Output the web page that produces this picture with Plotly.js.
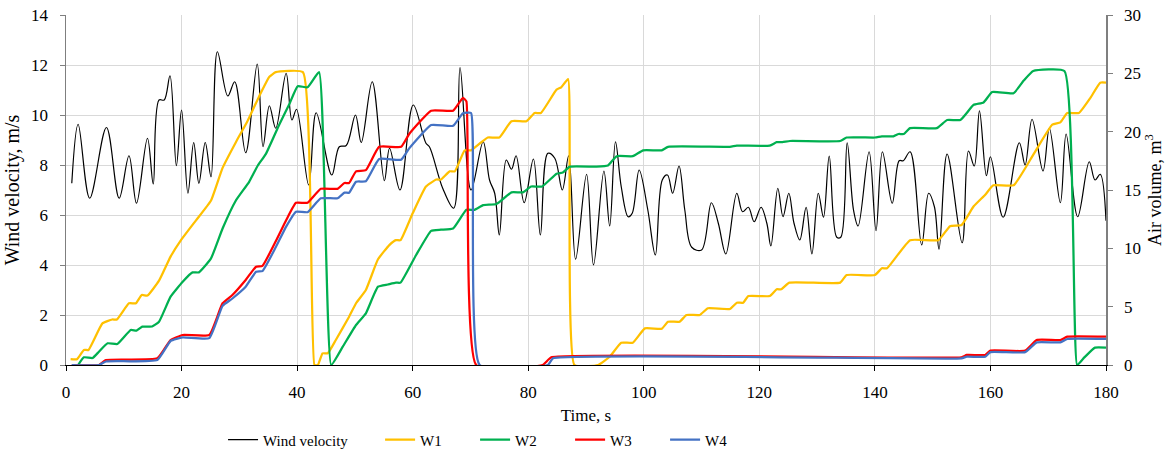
<!DOCTYPE html>
<html>
<head>
<meta charset="utf-8">
<script src="https://cdn.plot.ly/plotly-3.0.1.min.js"></script>
<style>html,body{margin:0;padding:0;background:#fff;}#chart{width:1173px;height:450px;}</style>
</head>
<body>
<div id="chart"></div>
<script>
// Wind velocity (m/s), left axis
const windT = [1, 2.1, 4.1, 7.0, 9.2, 10.9, 12.2, 14.1, 15.1, 16.1, 17.0, 18.0, 19.1, 20.0, 21.1, 22.1, 23.0, 24.1, 25.1, 26.2, 28.0, 29.2, 31.1, 33.1, 34.1, 35.2, 36.3, 38.1, 39.1, 39.9, 42.0, 43.3, 46.0, 47.3, 48.5, 50.1, 51.1, 53.0, 55.1, 56.0, 57.8, 60.1, 62.3, 62.9, 65.2, 67.1, 68.2, 70.1, 72.2, 73.3, 74.2, 75.0, 76.2, 77.1, 77.9, 79.3, 80.9, 82.1, 83.4, 84.6, 85.9, 87.0, 88.2, 90.1, 91.3, 93.1, 94.1, 95.1, 96.1, 97.3, 98.0, 99.2, 100.7, 102.0, 103.2, 104.1, 105.0, 106.1, 107.1, 108.3, 110.0, 111.7, 112.9, 114.2, 116.1, 117.1, 118.1, 119.1, 120.3, 121.3, 122.0, 123.2, 124.1, 125.1, 126.0, 127.0, 128.1, 129.1, 130.2, 131.1, 132.1, 133.4, 134.1, 135.2, 136.3, 137.1, 139.0, 140.2, 141.3, 143.0, 144.2, 144.9, 146.1, 148.1, 149.3, 150.3, 151.1, 152.5, 155.1, 156.2, 157.2, 158.1, 159.3, 160.0, 162.2, 165.0, 166.0, 167.2, 169.1, 170.2, 172.1, 173.1, 175.1, 177.1, 178.1, 179.0, 180];
const windV = [7.27, 9.63, 6.67, 9.5, 6.67, 8.37, 6.47, 9.07, 7.24, 10.6, 10.6, 11.57, 7.97, 10.2, 6.87, 8.9, 7.27, 8.9, 7.53, 12.53, 10.76, 11.33, 8.49, 12.04, 8.73, 10.37, 9.47, 11.67, 9.8, 10.23, 7.2, 10.09, 7.6, 8.73, 8.78, 10.0, 8.9, 11.33, 7.37, 8.67, 7.0, 10.4, 8.87, 8.73, 7.07, 6.27, 11.9, 7.0, 8.93, 7.4, 6.87, 5.2, 8.2, 7.83, 8.37, 6.49, 8.24, 5.2, 8.47, 8.27, 7.0, 8.37, 4.23, 7.63, 4.0, 7.76, 5.56, 8.93, 7.13, 5.93, 6.07, 7.8, 6.2, 4.4, 7.4, 7.6, 6.87, 7.96, 6.2, 4.71, 4.6, 6.49, 5.67, 4.44, 6.87, 6.13, 6.31, 5.73, 6.31, 5.67, 4.76, 7.07, 5.93, 6.87, 5.67, 5.0, 6.31, 4.44, 6.87, 5.91, 8.36, 5.11, 5.11, 8.89, 6.2, 5.56, 8.53, 5.37, 8.53, 6.47, 8.17, 8.17, 8.53, 4.8, 6.87, 6.33, 4.63, 8.44, 4.89, 8.56, 7.96, 10.17, 7.57, 8.33, 5.91, 8.89, 8.0, 9.83, 7.76, 9.47, 6.49, 9.24, 5.93, 8.13, 7.4, 7.63, 5.77];

// Air volume (m3), right axis
const w1T = [0.8, 1.9, 3.1, 3.9, 6.3, 8.0, 8.8, 10.9, 12.1, 13.1, 14.1, 16.1, 18.1, 19.9, 22.5, 25.1, 27.1, 29.4, 31.4, 33.4, 35.2, 36.3, 41.0, 43.0, 43.6, 44.4, 45.3, 46.7, 49.0, 50.2, 51.9, 54.0, 56.0, 57.1, 57.9, 60.0, 62.3, 64.1, 64.9, 66.4, 67.3, 69.0, 70.1, 71.9, 73.0, 75.0, 77.1, 79.7, 81.1, 82.2, 84.9, 85.7, 86.9, 88.0, 92.1, 94.1, 96.1, 98.1, 100.2, 103.1, 104.2, 106.2, 107.4, 109.7, 111.1, 114.9, 116.1, 117.2, 118.1, 121.8, 123.0, 123.8, 125.2, 134.0, 135.1, 140.0, 141.2, 142.1, 146.1, 151.0, 153.0, 155.0, 157.1, 159.1, 160.5, 164.0, 167.5, 170.7, 172.1, 173.3, 175.3, 177.3, 179.0, 180];
const w1V = [0.5, 0.5, 1.29, 1.29, 3.57, 3.9, 3.9, 5.29, 5.29, 6.0, 5.95, 7.23, 9.29, 10.7, 12.4, 14.1, 16.9, 19.1, 20.9, 23.0, 24.7, 25.1, 25.1, 0, 0, 1.0, 1.0, 2.14, 4.14, 5.29, 6.43, 9.06, 10.3, 10.7, 10.7, 13.0, 15.3, 15.9, 15.9, 16.6, 16.6, 18.4, 18.4, 19.1, 19.5, 19.5, 20.9, 20.9, 21.6, 21.6, 23.6, 23.8, 24.5, 0, 0, 0.71, 1.91, 1.91, 3.14, 3.1, 3.71, 3.71, 4.29, 4.29, 4.86, 4.8, 5.34, 5.34, 5.91, 5.91, 6.49, 6.49, 7.06, 7.06, 7.71, 7.71, 8.29, 8.29, 10.7, 10.7, 11.9, 12.0, 13.6, 14.6, 15.4, 15.4, 18.1, 20.6, 20.8, 21.6, 21.6, 22.9, 24.2, 24.2];

const w2T = [2.1, 3.1, 4.6, 5.7, 7.2, 8.9, 11.2, 12.2, 13.2, 14.9, 16.1, 18.1, 20.2, 21.9, 23.0, 25.1, 27.1, 29.4, 31.7, 33.2, 34.6, 36.9, 38.6, 40.1, 41.8, 43.8, 45.9, 47.9, 50.2, 51.9, 54.0, 55.7, 57.1, 57.9, 60.6, 63.2, 64.9, 67.0, 69.3, 70.7, 72.2, 74.5, 77.1, 79.1, 80.5, 82.4, 84.9, 86.0, 87.2, 91.8, 93.8, 95.3, 98.1, 99.9, 103.1, 104.2, 114.9, 116.1, 121.8, 123.0, 124.0, 125.3, 134.0, 135.1, 140.0, 141.2, 143.2, 144.1, 145.0, 146.1, 150.7, 152.5, 154.8, 157.1, 158.8, 160.3, 164.0, 165.8, 167.4, 172.8, 175.0, 176.1, 178.1, 180];
const w2V = [0, 0.66, 0.6, 1.14, 1.86, 1.8, 3.0, 2.95, 3.29, 3.3, 3.71, 5.86, 7.14, 7.94, 7.94, 9.14, 11.7, 14.1, 15.7, 17.1, 18.1, 20.6, 22.3, 23.9, 23.8, 25.1, 0, 1.57, 3.43, 4.43, 6.71, 6.9, 7.06, 7.06, 9.43, 11.5, 11.6, 11.7, 13.3, 13.3, 13.7, 13.8, 14.8, 14.8, 15.3, 15.3, 16.4, 16.5, 17.0, 17.0, 17.1, 17.9, 17.9, 18.4, 18.4, 18.7, 18.7, 18.8, 18.8, 19.1, 19.1, 19.2, 19.2, 19.5, 19.5, 19.6, 19.6, 19.8, 19.8, 20.3, 20.3, 21.0, 21.0, 22.3, 22.5, 23.4, 23.3, 24.4, 25.2, 25.2, 0, 0.57, 1.49, 1.49];

const w3T = [1, 5.7, 6.9, 15.8, 18.1, 20.2, 24.8, 27.1, 28.8, 31.1, 32.9, 34.0, 36.3, 38.1, 39.8, 41.8, 44.1, 47.0, 48.2, 49.0, 50.2, 51.9, 54.2, 58.0, 59.4, 63.2, 67.0, 68.7, 69.3, 71.0, 82.5, 84.0, 155.0, 155.9, 159.1, 160.0, 166.0, 168.0, 172.1, 173.3, 180];
const w3V = [0, 0, 0.43, 0.57, 2.14, 2.57, 2.57, 5.29, 6.0, 7.29, 8.43, 8.5, 10.6, 12.4, 13.9, 13.9, 15.1, 15.1, 15.6, 15.6, 16.6, 16.7, 18.7, 18.7, 19.8, 21.8, 21.8, 22.9, 22.6, 0, 0, 0.66, 0.66, 0.86, 0.86, 1.23, 1.23, 2.14, 2.14, 2.43, 2.43];

const w4T = [1, 5.7, 6.9, 15.8, 18.1, 20.2, 24.8, 27.1, 28.8, 31.1, 32.9, 34.0, 36.3, 38.1, 39.8, 41.8, 44.1, 47.0, 48.2, 49.0, 50.2, 51.9, 54.2, 58.0, 59.4, 63.2, 67.0, 68.7, 70.1, 71.6, 83.4, 84.3, 155.0, 155.9, 159.1, 160.0, 166.0, 168.0, 172.1, 173.3, 180];
const w4V = [0, 0, 0.3, 0.43, 2.06, 2.37, 2.3, 5.07, 5.7, 6.71, 8.0, 8.05, 10.09, 11.86, 13.14, 13.1, 14.29, 14.29, 14.77, 14.77, 15.71, 15.75, 17.66, 17.6, 18.57, 20.57, 20.5, 21.57, 21.6, 0, 0, 0.57, 0.57, 0.71, 0.71, 1.1, 1.1, 1.94, 1.94, 2.23, 2.23];

const seriesNames = ['Wind velocity', 'W1', 'W2', 'W3', 'W4'];
const xTickVals = [0, 20, 40, 60, 80, 100, 120, 140, 160, 180];

const FONT = '"Liberation Serif", "Times New Roman", serif';
const wLine = (c) => ({color: c, width: 2.25, shape: 'spline', smoothing: 0.4});

const traces = [
  {x: windT, y: windV, name: seriesNames[0], type: 'scatter', mode: 'lines', yaxis: 'y',
   line: {color: '#000000', width: 1.2, shape: 'spline', smoothing: 1}, legend: 'legend'},
  {x: w1T, y: w1V, name: seriesNames[1], type: 'scatter', mode: 'lines', yaxis: 'y2', line: wLine('#FFC000'), legend: 'legend2'},
  {x: w2T, y: w2V, name: seriesNames[2], type: 'scatter', mode: 'lines', yaxis: 'y2', line: wLine('#00B050'), legend: 'legend2'},
  {x: w3T, y: w3V, name: seriesNames[3], type: 'scatter', mode: 'lines', yaxis: 'y2', line: wLine('#FF0000'), legend: 'legend2'},
  {x: w4T, y: w4V, name: seriesNames[4], type: 'scatter', mode: 'lines', yaxis: 'y2', line: wLine('#4472C4'), legend: 'legend2'}
];

const layout = {
  width: 1173, height: 450,
  margin: {l: 66, r: 67, t: 15, b: 85, autoexpand: false},
  paper_bgcolor: '#ffffff', plot_bgcolor: '#ffffff',
  font: {family: FONT, size: 17, color: '#000000'},
  showlegend: true,
  xaxis: {
    range: [0, 180], tickvals: xTickVals, ticktext: xTickVals.map(String),
    tickfont: {family: FONT, size: 17},
    showgrid: true, gridcolor: '#d9d9d9', gridwidth: 1,
    showline: true, linecolor: '#000000', linewidth: 1.2,
    ticks: 'outside', ticklen: 5, tickcolor: '#000000',
    zeroline: false, ticklabelstandoff: 6,
    title: {text: 'Time, s', font: {family: FONT, size: 17}, standoff: 8},
    automargin: false
  },
  yaxis: {
    range: [0, 14], dtick: 2,
    tickfont: {family: FONT, size: 17},
    showgrid: true, gridcolor: '#d9d9d9', gridwidth: 1,
    showline: true, linecolor: '#7f7f7f', linewidth: 1.5,
    ticks: 'outside', ticklen: 5, tickcolor: '#7f7f7f',
    zeroline: false, ticklabelstandoff: 8,
    title: {text: 'Wind velocity, m/s', font: {family: FONT, size: 20}, standoff: 6},
    automargin: false
  },
  yaxis2: {
    range: [0, 30], dtick: 5, overlaying: 'y', side: 'right',
    tickfont: {family: FONT, size: 17},
    showgrid: false,
    showline: true, linecolor: '#7f7f7f', linewidth: 1.5,
    ticks: 'outside', ticklen: 5, tickcolor: '#7f7f7f',
    zeroline: false, ticklabelstandoff: 8,
    title: {text: 'Air volume, m<sup>3</sup>', font: {family: FONT, size: 18}, standoff: 8},
    automargin: false
  },
  legend: {
    orientation: 'h', x: 0.151, xanchor: 'left', y: -0.214, yanchor: 'middle',
    font: {family: FONT, size: 15}, itemwidth: 30, bgcolor: 'rgba(0,0,0,0)'
  },
  legend2: {
    orientation: 'h', x: 0.302, xanchor: 'left', y: -0.214, yanchor: 'middle',
    font: {family: FONT, size: 15}, itemwidth: 30, entrywidth: 50, bgcolor: 'rgba(0,0,0,0)'
  }
};

Plotly.newPlot('chart', traces, layout, {displayModeBar: false, staticPlot: true});
</script>
</body>
</html>
